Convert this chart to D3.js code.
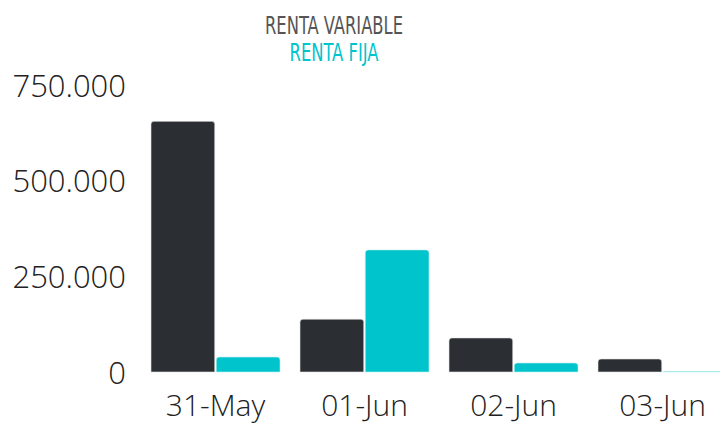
<!DOCTYPE html>
<html><head><meta charset="utf-8">
<script src="https://cdn.jsdelivr.net/npm/d3@7"></script>
<style>body{margin:0;background:#fff}svg{display:block}</style>
</head><body><svg id="c" width="720" height="423"></svg>
<script>
const categories = ["31-May","01-Jun","02-Jun","03-Jun"];
const seriesNames = ["RENTA VARIABLE","RENTA FIJA"];
const rentaVariable = [655000, 138000, 89000, 34000];
const rentaFija = [39000, 319000, 23500, 1200];
const yTicks = [0, 250000, 500000, 750000];
const colors = ["#2b2f33", "#00c4cc"];

const svg = d3.select("#c");
const x0 = d3.scaleBand().domain(categories).range([141, 737]).paddingInner(20/149).paddingOuter(10/149);
const x1 = d3.scaleBand().domain(seriesNames).range([0, x0.bandwidth()]).paddingInner(3/129);
const y = d3.scaleLinear().domain([0, 750000]).range([372, 85]);

const fmt = v => v === 0 ? "0" : d3.format(",")(v).replace(/,/g, ".");
const yAxis = d3.axisLeft(y).tickValues(yTicks).tickFormat(fmt).tickSize(0).tickPadding(0);
const gy = svg.append("g").attr("transform","translate(126,0)").call(yAxis);
gy.select(".domain").remove();
gy.selectAll("text").attr("font-family","'Open Sans'").attr("font-weight",300).attr("font-size",31).attr("fill","#222").attr("dy","0.36em");

const xAxis = d3.axisBottom(x0).tickSize(0).tickPadding(0);
const gx = svg.append("g").attr("transform","translate(0,372)").call(xAxis);
gx.select(".domain").remove();
gx.selectAll("text").attr("font-family","'Open Sans'").attr("font-weight",300).attr("font-size",30).attr("fill","#222").attr("dy","1.45em");

const data = categories.map((c,i)=>({cat:c, vals:[rentaVariable[i], rentaFija[i]]}));
function barPath(x, w, yTop, yBase){
  const h = yBase - yTop;
  const r = Math.min(3, h, w/2);
  return `M${x},${yBase}V${yTop+r}Q${x},${yTop} ${x+r},${yTop}H${x+w-r}Q${x+w},${yTop} ${x+w},${yTop+r}V${yBase}Z`;
}
const g = svg.append("g");
data.forEach(d=>{
  d.vals.forEach((v,j)=>{
    const bx = x0(d.cat) + x1(seriesNames[j]);
    g.append("path").attr("d", barPath(bx, x1.bandwidth(), y(v), y(0)))
      .attr("fill", colors[j]).attr("stroke", j===0 ? "#e4e4e4" : "#bff0f2").attr("stroke-width", 0.6);
  });
});

const legendColors = ["#555555", "#00c4cc"];
const legendWidths = [138, 89];
const lg = svg.append("g");
seriesNames.forEach((n,i)=>{
  lg.append("text").attr("x", 334).attr("y", 34 + i*27).attr("text-anchor","middle")
    .attr("font-family","'Liberation Sans Narrow','DejaVu Sans Condensed',sans-serif")
    .attr("font-size", 24).attr("fill", legendColors[i])
    .attr("textLength", legendWidths[i]).attr("lengthAdjust","spacingAndGlyphs")
    .text(n);
});
</script></body></html>
